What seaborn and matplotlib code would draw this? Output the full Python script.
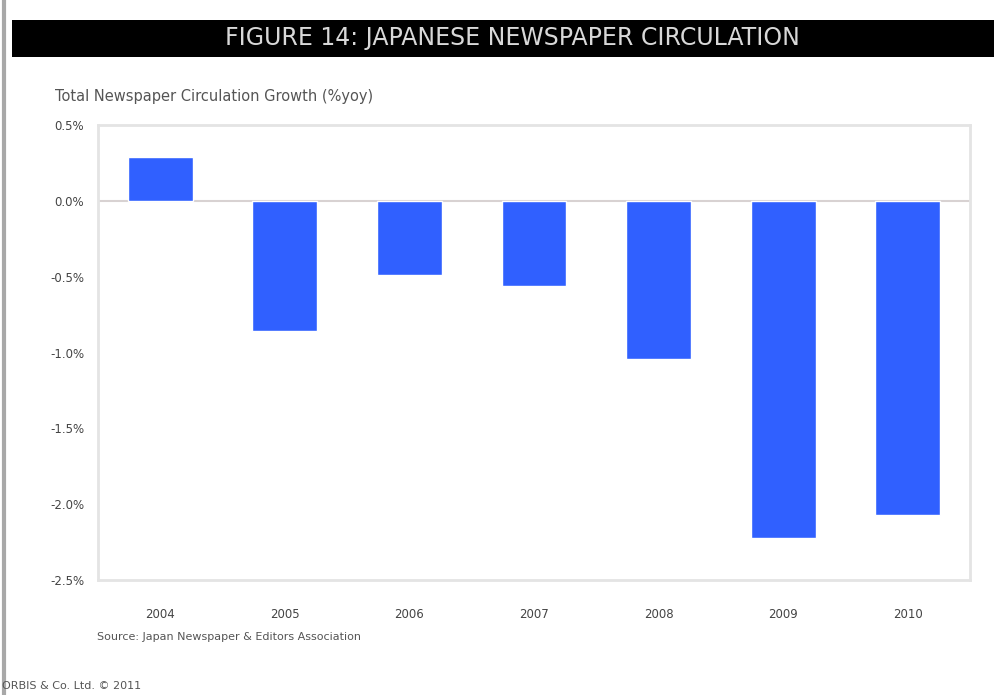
import matplotlib
matplotlib.use("Agg")
import matplotlib.pyplot as plt
from matplotlib.patches import Rectangle
from matplotlib.lines import Line2D
import seaborn as sns
import pandas as pd

# Year-on-year change in total Japanese newspaper circulation (%)
years = ["2004", "2005", "2006", "2007", "2008", "2009", "2010"]
growth = [0.29, -0.86, -0.49, -0.56, -1.04, -2.22, -2.07]
ytick_values = [0.5, 0.0, -0.5, -1.0, -1.5, -2.0, -2.5]
ytick_labels = ["0.5%", "0.0%", "-0.5%", "-1.0%", "-1.5%", "-2.0%", "-2.5%"]

title = "FIGURE 14: JAPANESE NEWSPAPER CIRCULATION"
ylabel = "Total Newspaper Circulation Growth (%yoy)"
source = "Source: Japan Newspaper & Editors Association"
footer = "ORBIS & Co. Ltd. \u00a9 2011"

bar_color = "#3060ff"
frame_color = "#e4e4e4"

df = pd.DataFrame({"year": years, "growth": growth})

sns.set_theme(style="white")
plt.rcParams["font.family"] = ["DejaVu Sans"]

W, H = 995, 695
fig = plt.figure(figsize=(W / 100, H / 100), dpi=100)
fig.patch.set_facecolor("white")


def fx(px):
    return px / W


def fy(py):
    return 1 - py / H


ax = fig.add_axes([fx(98), fy(580), fx(970) - fx(98), fy(125) - fy(580)])
sns.barplot(data=df, x="year", y="growth", color=bar_color, width=0.52,
            saturation=1, ax=ax, zorder=3)

ax.set_xlim(-0.5, len(years) - 0.5)
ax.set_ylim(-2.5, 0.5)
ax.set_yticks(ytick_values)
ax.set_yticklabels(ytick_labels)
ax.axhline(0, color="#d8d2d2", lw=1.5, zorder=2)
ax.set_xlabel("")
ax.set_ylabel("")
ax.tick_params(axis="both", length=0, labelsize=8.5, colors="#444444")
ax.tick_params(axis="y", pad=10)
ax.tick_params(axis="x", pad=20)
for s in ax.spines.values():
    s.set_color(frame_color)
    s.set_linewidth(2)

# Title band
fig.patches.append(Rectangle((fx(12), fy(57)), 1 - fx(12), fy(20) - fy(57),
                             transform=fig.transFigure, facecolor="black",
                             edgecolor="none", zorder=0))
fig.text(fx(512), fy(38.5), title, ha="center", va="center",
         color="#d8d8d8", fontsize=17)

# Left page rule
fig.lines.append(Line2D([fx(4), fx(4)], [0, 1], transform=fig.transFigure,
                        color="#a8a8a8", lw=3))

fig.text(fx(55), fy(97), ylabel, ha="left", va="center",
         color="#555555", fontsize=10.5)
fig.text(fx(97), fy(637), source, ha="left", va="center",
         color="#555555", fontsize=8)
fig.text(fx(2), fy(686), footer, ha="left", va="center",
         color="#555555", fontsize=8)

fig.savefig("out.png", dpi=100)
